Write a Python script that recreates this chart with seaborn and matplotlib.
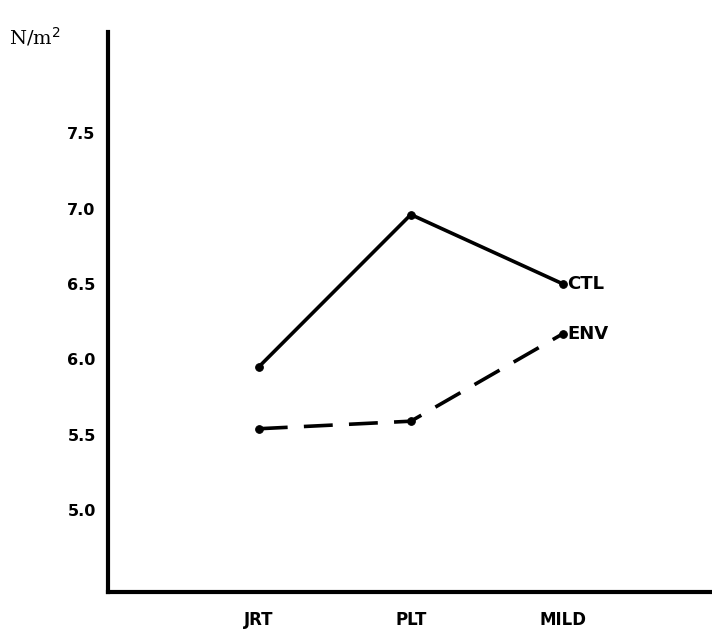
import matplotlib
matplotlib.use("Agg")
import matplotlib.pyplot as plt
import seaborn as sns
import pandas as pd

categories = ["JRT", "PLT", "MILD"]
ctl_values = [5.95, 6.96, 6.50]
env_values = [5.54, 5.59, 6.17]
series_names = ["CTL", "ENV"]
y_ticks = [5.0, 5.5, 6.0, 6.5, 7.0, 7.5]
y_tick_labels = ["5.0", "5.5", "6.0", "6.5", "7.0", "7.5"]

sns.set_style("white")
plt.rcParams['font.family'] = ['DejaVu Sans']

df = pd.DataFrame({
    "x": list(range(len(categories))) * 2,
    "value": ctl_values + env_values,
    "series": [series_names[0]] * 3 + [series_names[1]] * 3,
})

fig = plt.figure(figsize=(7.12, 6.41), dpi=100)
ax = fig.add_axes([0.152, 0.077, 0.848, 0.873])

sns.lineplot(data=df[df.series == "CTL"], x="x", y="value", ax=ax,
             color="black", lw=2.6, marker="o", markersize=5.5,
             markeredgecolor="black", legend=False)
sns.lineplot(data=df[df.series == "ENV"], x="x", y="value", ax=ax,
             color="black", lw=2.6, marker="o", markersize=5.5,
             markeredgecolor="black", legend=False)
ax.lines[1].set_dashes([8, 4.5])

ax.set_xlim(-0.99, 2.98)
ax.set_ylim(4.46, 8.17)

ax.set_xticks(range(len(categories)))
ax.set_xticklabels(categories, fontsize=12, fontweight="bold", color="black")
ax.set_yticks(y_ticks)
ax.set_yticklabels(y_tick_labels, fontsize=11.5, fontweight="bold", color="black")
ax.tick_params(axis="both", length=4, width=2, color="black", direction="out")
ax.tick_params(axis="y", pad=5)
ax.tick_params(axis="x", pad=10)
ax.set_xlabel("")
ax.set_ylabel("")

for s in ["top", "right"]:
    ax.spines[s].set_visible(False)
for s in ["left", "bottom"]:
    ax.spines[s].set_linewidth(3)
    ax.spines[s].set_color("black")

ax.text(2.03, ctl_values[2], "CTL", fontsize=13, fontweight="bold", va="center", ha="left", color="black")
ax.text(2.03, env_values[2], "ENV", fontsize=13, fontweight="bold", va="center", ha="left", color="black")

fig.text(0.012, 0.925, "N/m$^2$", fontsize=14, family="DejaVu Serif", ha="left", va="bottom", color="black")

fig.savefig("out.png", dpi=100)
